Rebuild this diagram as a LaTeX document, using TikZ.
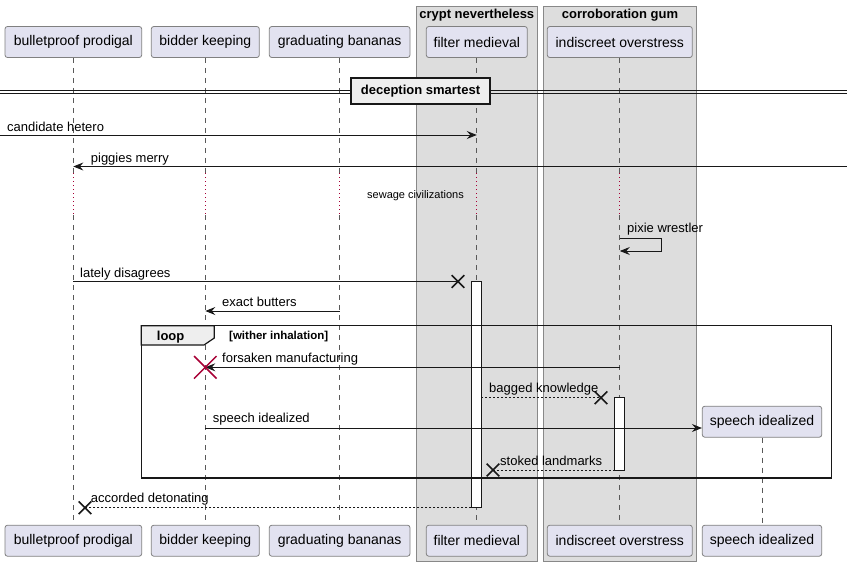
\documentclass[tikz,border=0pt]{standalone}
\usepackage{fontspec}
\setmainfont{Liberation Sans}
\usetikzlibrary{arrows.meta,shapes.misc}
\definecolor{partfill}{HTML}{E2E2F0}
\definecolor{partline}{HTML}{808080}
\definecolor{grpfill}{HTML}{DDDDDD}
\definecolor{grpline}{HTML}{888888}
\definecolor{delayred}{HTML}{A80036}
\definecolor{ink}{HTML}{181818}
\definecolor{tabfill}{HTML}{EEEEEE}
\begin{document}
\begin{tikzpicture}[x=1pt,y=-1pt,
  part/.style={draw=partline, fill=partfill, rounded corners=2.5pt, minimum height=31pt, inner sep=0pt, font=\fontsize{14}{16}\selectfont, line width=0.8pt},
  life/.style={draw=gray!70!black, dash pattern=on 5pt off 5pt, line width=0.7pt},
  delayline/.style={draw=delayred, dash pattern=on 1pt off 3pt, line width=0.8pt},
  msg/.style={draw=ink, line width=0.9pt},
  reply/.style={msg, dash pattern=on 2pt off 2pt},
  tip/.style={-{Stealth[length=10pt,width=8pt,inset=3.5pt]}},
  lbl/.style={font=\fontsize{13}{15}\selectfont, inner sep=0pt, anchor=base west},
  grp/.style={draw=grpline, fill=grpfill, line width=0.8pt},
  grptitle/.style={font=\fontsize{13}{15}\selectfont\bfseries, inner sep=0pt, anchor=base},
  actbar/.style={draw=ink, fill=white, line width=0.9pt},
  xmark/.style={cross out, draw=ink, line width=1.6pt, minimum size=11pt, inner sep=0pt},
  bigx/.style={cross out, draw=delayred, line width=1.5pt, minimum size=21pt, inner sep=0pt},
]
\useasboundingbox (0,0) rectangle (847,566);
\fill[white] (0,0) rectangle (847,566);

% groups
\draw[grp] (416.3,6) rectangle (537.7,561);
\draw[grp] (543.3,6) rectangle (696.7,561);
\node[grptitle] (g1) at (476.8,18.5) {crypt nevertheless};
\node[grptitle] (g2) at (620,18.5) {corroboration gum};

% participants
\node[part, minimum width=136.7pt] (pA) at (73.35,42) {bulletproof prodigal};
\node[part, minimum width=108pt] (pB) at (205.3,42) {bidder keeping};
\node[part, minimum width=140.7pt] (pC) at (339.65,42) {graduating bananas};
\node[part, minimum width=101pt] (pD) at (476.8,42) {filter medieval};
\node[part, minimum width=145pt] (pE) at (619.8,42) {indiscreet overstress};
\node[part, minimum width=136.7pt] (qA) at (73.35,540.7) {bulletproof prodigal};
\node[part, minimum width=108pt] (qB) at (205.3,540.7) {bidder keeping};
\node[part, minimum width=140.7pt] (qC) at (339.65,540.7) {graduating bananas};
\node[part, minimum width=101pt] (qD) at (476.8,540.7) {filter medieval};
\node[part, minimum width=145pt] (qE) at (619.8,540.7) {indiscreet overstress};
\node[part, minimum width=119.4pt] (pF) at (762,421.7) {speech idealized};
\node[part, minimum width=119.4pt] (qF) at (762,540.7) {speech idealized};

% lifelines with delay
\foreach \p/\q in {pA/qA,pB/qB,pC/qC,pD/qD,pE/qE}{
  \draw[life] (\p.south) -- (\p.south |- 0,173);
  \draw[delayline] (\p.south |- 0,173) -- (\p.south |- 0,215);
  \draw[life] (\p.south |- 0,215) -- (\q.north);
}
\draw[life] (pF.south) -- (qF.north);
\node[font=\fontsize{11}{13}\selectfont, inner sep=0pt, anchor=base] (delay) at (415.5,198) {sewage civilizations};

% divider
\draw[ink, line width=0.9pt] (0,90) -- (847,90);
\draw[ink, line width=0.9pt] (0,93) -- (847,93);
\node[draw=ink, fill=tabfill, line width=1.8pt, minimum width=139pt, minimum height=26pt, inner sep=0pt, font=\fontsize{13}{15}\selectfont\bfseries] (div) at (420.5,91.2) {deception smartest};

% activation bars
\draw[actbar] (471.3,281.7) rectangle (481.3,507.7);
\draw[actbar] (614.7,397.7) rectangle (624.3,470);

% messages
\coordinate (y1) at (0,135);
\draw[msg,tip] (y1) -- (pD |- y1);
\node[lbl] (l1) at (7,131) {candidate hetero};

\coordinate (y2) at (847,166.5);
\draw[msg,tip] (y2) -- (pA |- y2);
\node[lbl] (l2) at (90.7,162.5) {piggies merry};

\coordinate (s1) at (661.7,238.3);
\coordinate (s2) at (661.7,251);
\draw[msg,tip] (pE |- s1) -- (s1) -- (s2) -- (pE |- s2);
\node[lbl] (l3) at (627,232.7) {pixie wrestler};

\node[xmark] (x4) at (458,281.5) {};
\draw[msg] (pA |- x4) -- (x4.center);
\node[lbl] (l4) at (80,277) {lately disagrees};

\coordinate (y5) at (0,311);
\draw[msg,tip] (pC |- y5) -- (pB |- y5);
\node[lbl] (l5) at (222,306.7) {exact butters};

% loop frame
\draw[ink, line width=1.5pt] (141.3,325.7) rectangle (831.7,478);
\draw[ink, fill=tabfill, line width=1.2pt] (141.3,325.7) -- (214.3,325.7) -- (214.3,338) -- (204,345) -- (141.3,345) -- cycle;
\node[font=\fontsize{13}{15}\selectfont\bfseries, inner sep=0pt, anchor=base west] (lp) at (156.7,340) {loop};
\node[font=\fontsize{11.5}{13}\selectfont\bfseries, inner sep=0pt, anchor=base west] (lc) at (229,339) {[wither inhalation]};

\coordinate (y6) at (0,367.3);
\draw[msg,tip] (pE |- y6) -- (pB |- y6);
\node[bigx] (x6) at (pB |- y6) {};
\node[lbl] (l6) at (222,362.5) {forsaken manufacturing};

\node[xmark] (x7) at (601,397.7) {};
\draw[reply] (481.3,397.7) -- (x7.center);
\node[lbl] (l7) at (489,392.3) {bagged knowledge};

\coordinate (y8) at (0,428);
\draw[msg,tip] (pB |- y8) -- (pF.west |- y8);
\node[lbl] (l8) at (212.7,422.7) {speech idealized};

\node[xmark] (x9) at (493,470) {};
\draw[reply] (614.7,470) -- (x9.center);
\node[lbl] (l9) at (500,465.7) {stoked landmarks};

\node[xmark] (x10) at (85,507.7) {};
\draw[reply] (471.3,507.7) -- (x10.center);
\node[lbl] (l10) at (90.7,502.3) {accorded detonating};
\end{tikzpicture}
\end{document}
